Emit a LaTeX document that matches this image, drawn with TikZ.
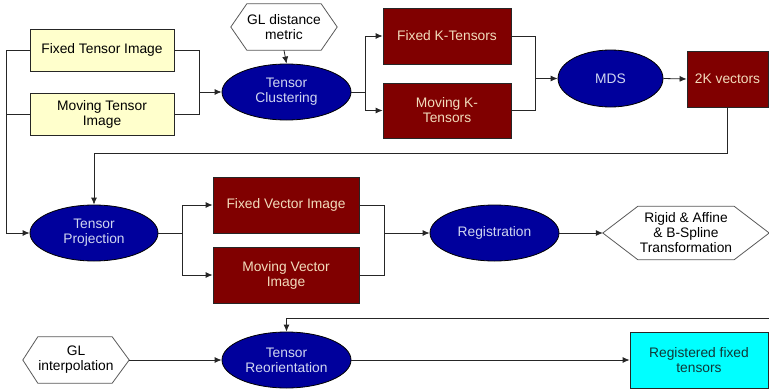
\documentclass[tikz,border=0pt]{standalone}
\usepackage{fontspec}
\setmainfont{Liberation Sans}
\usetikzlibrary{shapes.geometric,arrows.meta}
\definecolor{ybox}{HTML}{FFFFCC}
\definecolor{dred}{HTML}{800000}
\definecolor{navyb}{HTML}{00009C}
\definecolor{elltext}{HTML}{D0D6F0}
\definecolor{redtext}{HTML}{F2DCBC}
\definecolor{cyanb}{HTML}{00FFFF}
\definecolor{cyantext}{HTML}{103838}
\begin{document}
\begin{tikzpicture}[x=1pt,y=-1pt,
  base/.style={font=\fontsize{13.8}{15}\selectfont, align=center, inner sep=0pt},
  yboxs/.style={base, draw=black!85, line width=0.8pt, fill=ybox, minimum width=144, minimum height=42},
  rboxs/.style={base, draw=black!85, line width=0.8pt, fill=dred, text=redtext},
  ells/.style={base, ellipse, draw=black, line width=0.8pt, fill=navyb, text=elltext, minimum width=129, minimum height=56},
  hexn/.style={base},
  hexline/.style={draw=black!65, line width=0.8pt},
  conn/.style={draw=black!85, line width=0.8pt},
  arr/.style={conn, -{Latex[length=7pt,width=6pt]}}]
\useasboundingbox (0,0) rectangle (769,391);

% nodes
\node[yboxs] (fti) at (102,50) {Fixed Tensor Image};
\node[yboxs] (mti) at (102,114) {Moving Tensor\\Image};
\node[ells] (tc) at (286.5,92) {Tensor\\Clustering};
\node[hexn, minimum width=106, minimum height=46] (gld) at (284,27) {GL distance\\metric};
\draw[hexline] (gld.west) -- ([xshift=16]gld.north west) -- ([xshift=-16]gld.north east) -- (gld.east) -- ([xshift=-16]gld.south east) -- ([xshift=16]gld.south west) -- cycle;
\node[rboxs, minimum width=128, minimum height=56] (fkt) at (447,36) {Fixed K-Tensors};
\node[rboxs, minimum width=128, minimum height=55] (mkt) at (447,110.5) {Moving K-\\Tensors};
\node[ells, minimum width=105, minimum height=57] (mds) at (610.5,78.5) {MDS};
\node[rboxs, minimum width=81, minimum height=56] (k2v) at (727.5,79) {2K vectors};
\node[ells, minimum width=128] (tp) at (94,233) {Tensor\\Projection};
\node[rboxs, minimum width=146, minimum height=56] (fvi) at (286,205) {Fixed Vector Image};
\node[rboxs, minimum width=146, minimum height=56] (mvi) at (286,275) {Moving Vector\\Image};
\node[ells] (reg) at (494.5,233) {Registration};
\node[hexn, minimum width=166, minimum height=53] (rat) at (686,233) {Rigid \& Affine\\\& B-Spline\\Transformation};
\draw[hexline] (rat.west) -- ([xshift=35]rat.north west) -- ([xshift=-35]rat.north east) -- (rat.east) -- ([xshift=-35]rat.south east) -- ([xshift=35]rat.south west) -- cycle;
\node[ells] (tr) at (286.5,360) {Tensor\\Reorientation};
\node[hexn, minimum width=106, minimum height=46] (gli) at (76,360) {GL\\interpolation};
\draw[hexline] (gli.west) -- ([xshift=15]gli.north west) -- ([xshift=-17]gli.north east) -- (gli.east) -- ([xshift=-17]gli.south east) -- ([xshift=15]gli.south west) -- cycle;
\node[base, draw=black!85, line width=0.8pt, fill=cyanb, text=cyantext, minimum width=138, minimum height=56] (rft) at (699,360) {Registered fixed\\tensors};

% junction coordinates
\coordinate (L1) at (6,50);
\coordinate (J1) at (199,92);
\coordinate (J2) at (365,92);
\coordinate (J3) at (535,78.5);
\coordinate (B1) at (727.5,153);
\coordinate (J4) at (182,233);
\coordinate (J5) at (384,233);
\coordinate (R1) at (770,318);

% connectors
\draw[arr] (fti.west) -- (L1) |- (tp.west);
\draw[conn] (mti.west) -| (L1);
\draw[conn] (fti.east) -| (J1);
\draw[conn] (mti.east) -| (J1);
\draw[arr] (J1) -- (tc.west);
\draw[arr] (gld.south) -- (tc.north);
\draw[conn] (tc.east) -- (J2);
\draw[arr] (J2) |- (fkt.west);
\draw[arr] (J2) |- (mkt.west);
\draw[conn] (fkt.east) -| (J3);
\draw[conn] (mkt.east) -| (J3);
\draw[arr] (J3) -- (mds.west);
\draw[arr] (mds.east) -- (k2v.west);
\draw[arr] (k2v.south) -- (B1) -| (tp.north);
\draw[conn] (tp.east) -- (J4);
\draw[arr] (J4) |- (fvi.west);
\draw[arr] (J4) |- (mvi.west);
\draw[conn] (fvi.east) -| (J5);
\draw[conn] (mvi.east) -| (J5);
\draw[arr] (J5) -- (reg.west);
\draw[arr] (reg.east) -- (rat.west);
\draw[arr] (R1) -| (tr.north);
\draw[arr] (gli.east) -- (tr.west);
\draw[arr] (tr.east) -- (rft.west);
\end{tikzpicture}
\end{document}
